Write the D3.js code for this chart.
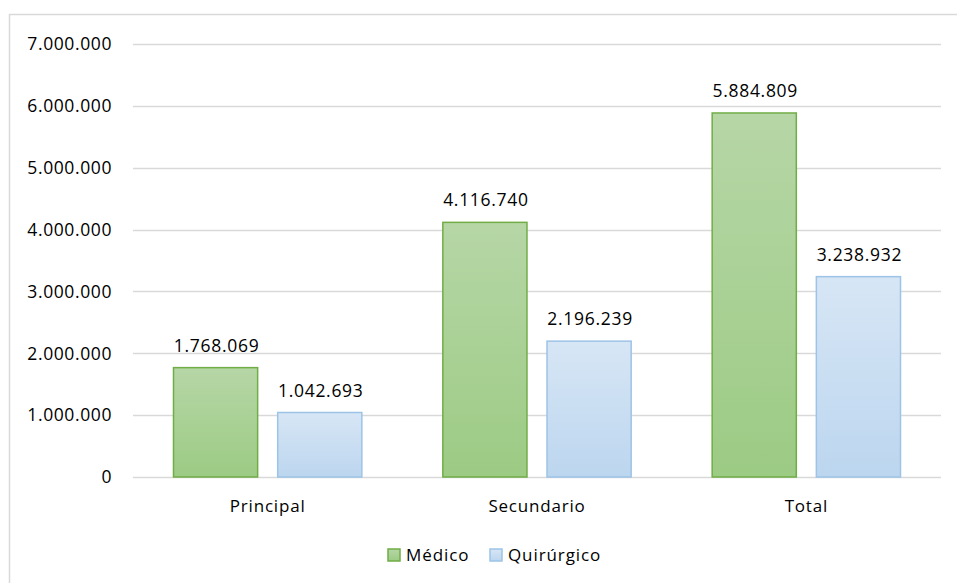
<!DOCTYPE html>
<html>
<head>
<meta charset="utf-8">
<script src="https://cdn.jsdelivr.net/npm/d3@7"></script>
<style>
  body { margin: 0; background: #fff; }
  text { font-family: "Open Sans", sans-serif; fill: #000; }
</style>
</head>
<body>
<div id="chart"></div>
<script>
// chart data
var categories = ['Principal', 'Secundario', 'Total'];
var seriesNames = ['Médico', 'Quirúrgico'];
var medico = [1768069, 4116740, 5884809];
var quirurgico = [1042693, 2196239, 3238932];
var yTicks = [0, 1000000, 2000000, 3000000, 4000000, 5000000, 6000000, 7000000];

const width = 957;
const height = 583;
const plot = { left: 133, right: 941, top: 44, bottom: 477 };

var svg = d3.select('#chart')
    .append('svg')
        .attr('width', width)
        .attr('height', height);

// gradients for the bars
var defs = svg.append('defs');
var grads = [
    { id: 'gMed', top: '#b6d6a6', bottom: '#9ccb84' },
    { id: 'gQui', top: '#d7e6f5', bottom: '#bcd6ef' }
];
grads.forEach(g => {
    let lg = defs.append('linearGradient')
        .attr('id', g.id)
        .attr('x1', 0).attr('y1', 0).attr('x2', 0).attr('y2', 1);
    lg.append('stop').attr('offset', '0%').attr('stop-color', g.top);
    lg.append('stop').attr('offset', '100%').attr('stop-color', g.bottom);
});
var fills = ['url(#gMed)', 'url(#gQui)'];
var strokes = ['#70ad47', '#9dc3e6'];

// chart border
svg.append('rect')
    .attr('x', 9.5)
    .attr('y', 14.5)
    .attr('width', 960)
    .attr('height', 600)
    .attr('fill', 'none')
    .attr('stroke', '#d9d9d9')
    .attr('stroke-width', 1.5);

var y = d3.scaleLinear()
    .domain([0, 7000000])
    .range([plot.bottom, plot.top]);

var x0 = d3.scaleBand()
    .domain(categories)
    .range([plot.left, plot.right])
    .padding(0);

var x1 = d3.scaleBand()
    .domain(seriesNames)
    .range([40.5, x0.bandwidth() - 40.5])
    .paddingInner(0.1923);

var fmt = v => d3.format(',')(v).replace(/,/g, '.');

// gridlines
svg.append('g')
    .selectAll('line')
    .data(yTicks)
    .enter()
    .append('line')
        .attr('x1', plot.left)
        .attr('x2', plot.right)
        .attr('y1', d => Math.round(y(d)) + 0.5)
        .attr('y2', d => Math.round(y(d)) + 0.5)
        .attr('stroke', '#d9d9d9')
        .attr('stroke-width', 1.5);

// y tick labels
svg.append('g')
    .selectAll('text')
    .data(yTicks)
    .enter()
    .append('text')
        .text(d => fmt(d))
        .attr('x', 112)
        .attr('y', d => y(d))
        .attr('dy', '0.36em')
        .attr('text-anchor', 'end')
        .style('font-size', '17.5px')
        .style('letter-spacing', '0.6px');

// bars
var rows = categories.map((c, i) => ({ cat: c, values: [medico[i], quirurgico[i]] }));

var groups = svg.append('g')
    .selectAll('g')
    .data(rows)
    .enter()
    .append('g')
        .attr('transform', d => `translate(${x0(d.cat)},0)`);

groups.selectAll('rect')
    .data(d => d.values.map((v, j) => ({ key: seriesNames[j], value: v, j: j })))
    .enter()
    .append('rect')
        .attr('x', d => x1(d.key))
        .attr('y', d => y(d.value))
        .attr('width', x1.bandwidth())
        .attr('height', d => y(0) - y(d.value))
        .attr('fill', d => fills[d.j])
        .attr('stroke', d => strokes[d.j])
        .attr('stroke-width', 1.5);

// value labels
groups.selectAll('text')
    .data(d => d.values.map((v, j) => ({ key: seriesNames[j], value: v })))
    .enter()
    .append('text')
        .text(d => fmt(d.value))
        .attr('x', d => x1(d.key) + x1.bandwidth() / 2 + 1)
        .attr('y', d => y(d.value) - 16)
        .attr('text-anchor', 'middle')
        .style('font-size', '17.5px')
        .style('letter-spacing', '0.7px');

// category labels
svg.append('g')
    .selectAll('text')
    .data(categories)
    .enter()
    .append('text')
        .text(d => d)
        .attr('x', d => x0(d) + x0.bandwidth() / 2)
        .attr('y', 512)
        .attr('text-anchor', 'middle')
        .style('font-size', '17px')
        .style('letter-spacing', '0.8px');

// legend
var legendX = [388, 490];
var legend = svg.append('g')
    .selectAll('g')
    .data(seriesNames)
    .enter()
    .append('g')
        .attr('transform', (d, i) => `translate(${legendX[i]}, 549)`);

legend.append('rect')
    .attr('width', 12)
    .attr('height', 12)
    .attr('fill', (d, i) => fills[i])
    .attr('stroke', (d, i) => strokes[i])
    .attr('stroke-width', 1.5);

legend.append('text')
    .text(d => d)
    .attr('x', 18)
    .attr('y', 6)
    .attr('dy', '0.36em')
    .style('font-size', '17px')
    .style('letter-spacing', '0.9px');
</script>
</body>
</html>
